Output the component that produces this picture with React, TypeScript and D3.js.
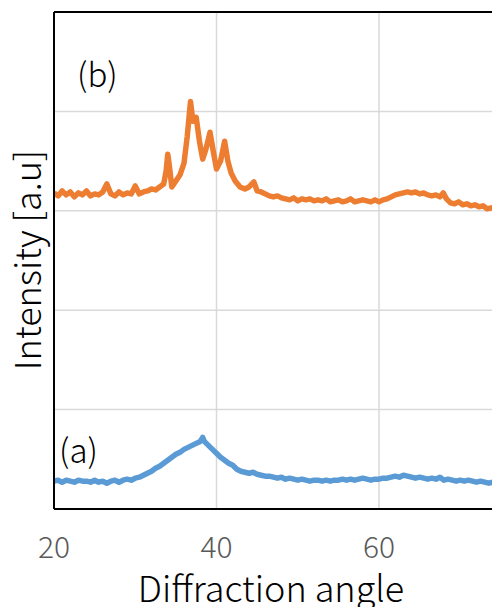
import * as d3 from 'd3';

// diffraction angle (deg) and intensity (a.u.) for each sample
const angleB = [
  20, 20.5, 21, 21.5, 22, 22.5, 23, 23.5, 24, 24.5, 25, 25.5, 26, 26.5, 27, 27.5, 28, 28.5, 29, 29.5,
  30, 30.5, 31, 31.5, 32, 32.5, 33, 33.5, 33.8, 34.0, 34.2, 34.5, 35, 35.5, 36, 36.4, 36.8, 37.1, 37.5,
  37.9, 38.3, 38.7, 39.2, 39.6, 40.0, 40.5, 41.0, 41.4, 41.8, 42.3, 42.9, 43.5, 44.0, 44.6, 45.0, 45.5,
  46, 46.5, 47, 47.5, 48, 48.5, 49, 49.5, 50, 50.5, 51, 51.5, 52, 52.5, 53, 53.5, 54, 54.5, 55, 55.5,
  56, 56.5, 57, 57.5, 58, 58.5, 59, 59.5, 60, 60.5, 61, 61.5, 62, 62.5, 63, 63.5, 64, 64.5, 65, 65.5,
  66, 66.5, 67, 67.5, 67.9, 68.3, 68.8, 69.3, 69.8, 70.3, 70.8, 71.3, 71.8, 72.3, 72.8, 73.3, 73.8, 74.2,
];
const intensityB = [
  3.18, 3.15, 3.2, 3.16, 3.19, 3.14, 3.18, 3.16, 3.2, 3.15, 3.17, 3.16, 3.19, 3.27, 3.17, 3.15, 3.19, 3.16, 3.18, 3.17,
  3.25, 3.17, 3.19, 3.2, 3.22, 3.21, 3.24, 3.27, 3.4, 3.57, 3.45, 3.24, 3.3, 3.36, 3.48, 3.75, 4.1, 3.9, 3.94,
  3.7, 3.52, 3.62, 3.79, 3.6, 3.42, 3.5, 3.7, 3.5, 3.38, 3.3, 3.24, 3.22, 3.24, 3.29, 3.2, 3.19,
  3.17, 3.15, 3.14, 3.15, 3.13, 3.12, 3.11, 3.13, 3.1, 3.12, 3.11, 3.12, 3.1, 3.11, 3.1, 3.12, 3.09, 3.1, 3.11, 3.09,
  3.1, 3.12, 3.09, 3.1, 3.11, 3.1, 3.09, 3.11, 3.09, 3.11, 3.12, 3.14, 3.16, 3.17, 3.18, 3.19, 3.18, 3.19, 3.17, 3.18,
  3.16, 3.15, 3.16, 3.14, 3.18, 3.12, 3.08, 3.07, 3.09, 3.06, 3.07, 3.05, 3.06, 3.04, 3.05, 3.02, 3.03, 3.02,
];

const angleA = [
  20, 20.5, 21, 21.5, 22, 22.5, 23, 23.5, 24, 24.5, 25, 25.5, 26, 26.5, 27, 27.5, 28, 28.5, 29, 29.5,
  30, 30.5, 31, 31.5, 32, 32.5, 33, 33.5, 34, 34.5, 35, 35.5, 36, 36.5, 37, 37.5, 38, 38.3, 38.5, 39,
  39.5, 40, 40.5, 41, 41.5, 42, 42.5, 43, 43.5, 44, 44.5, 45, 45.5, 46, 46.5, 47, 47.5, 48, 48.5, 49,
  49.5, 50, 50.5, 51, 51.5, 52, 52.5, 53, 53.5, 54, 54.5, 55, 55.5, 56, 56.5, 57, 57.5, 58, 58.5, 59,
  59.5, 60, 60.5, 61, 61.5, 62, 62.5, 63, 63.5, 64, 64.5, 65, 65.5, 66, 66.5, 67, 67.5, 68, 68.5, 69,
  69.5, 70, 70.5, 71, 71.5, 72, 72.5, 73, 73.5, 74,
];
const intensityA = [
  0.28, 0.29, 0.27, 0.29, 0.28, 0.27, 0.29, 0.28, 0.28, 0.27, 0.29, 0.27, 0.28, 0.26, 0.28, 0.29, 0.27, 0.29, 0.3, 0.29,
  0.31, 0.32, 0.34, 0.36, 0.38, 0.41, 0.43, 0.46, 0.49, 0.52, 0.55, 0.57, 0.6, 0.62, 0.64, 0.66, 0.68, 0.72, 0.68, 0.64,
  0.6, 0.56, 0.52, 0.49, 0.46, 0.44, 0.4, 0.38, 0.37, 0.36, 0.37, 0.35, 0.34, 0.33, 0.33, 0.32, 0.31, 0.32, 0.3, 0.31,
  0.3, 0.29, 0.3, 0.29, 0.28, 0.29, 0.29, 0.28, 0.29, 0.28, 0.29, 0.29, 0.3, 0.29, 0.3, 0.29, 0.3, 0.31, 0.3, 0.29,
  0.3, 0.3, 0.31, 0.31, 0.32, 0.33, 0.32, 0.34, 0.33, 0.32, 0.31, 0.32, 0.31, 0.3, 0.31, 0.3, 0.32, 0.29, 0.3, 0.29,
  0.28, 0.29, 0.28, 0.29, 0.28, 0.27, 0.28, 0.27, 0.26, 0.27,
];

const xTicks = [20, 40, 60, 80];
const yTicks = [0, 1, 2, 3, 4, 5];

const W = 492;
const H = 607;
const margin = { left: 54, top: 12, bottom: 98 };
const plotRight = 541.5;
const font = '"Noto Sans CJK JP", "Noto Sans", sans-serif';

export default function App() {
  const x = d3.scaleLinear().domain([20, 80]).range([margin.left, plotRight]);
  const y = d3.scaleLinear().domain([0, 5]).range([H - margin.bottom, margin.top]);

  const path = (ax: number[], iy: number[]) =>
    d3
      .line<number>()
      .x((d) => x(ax[d]))
      .y((d) => y(iy[d]))(d3.range(ax.length)) || '';

  return (
    <svg
      width={W}
      height={H}
      style={{ position: 'absolute', left: 0, top: 0, background: '#fff' }}
      fontFamily={font}
      fontWeight={300}
    >
      <defs>
        <clipPath id="plot">
          <rect x={margin.left} y={margin.top} width={plotRight - margin.left} height={y(0) - y(5)} />
        </clipPath>
      </defs>
      {yTicks.slice(1, -1).map((t) => (
        <line key={'gy' + t} x1={margin.left} x2={plotRight} y1={y(t)} y2={y(t)} stroke="#d9d9d9" strokeWidth={1.5} />
      ))}
      {xTicks.slice(1).map((t) => (
        <line key={'gx' + t} x1={x(t)} x2={x(t)} y1={y(5)} y2={y(0)} stroke="#d9d9d9" strokeWidth={1.5} />
      ))}
      <g clipPath="url(#plot)">
        <path d={path(angleA, intensityA)} fill="none" stroke="#5B9BD5" strokeWidth={5.5} strokeLinejoin="round" />
        <path d={path(angleB, intensityB)} fill="none" stroke="#ED7D31" strokeWidth={5.5} strokeLinejoin="round" />
      </g>
      <line x1={margin.left} x2={plotRight} y1={y(5)} y2={y(5)} stroke="#000" strokeWidth={2} />
      <line x1={margin.left} x2={plotRight} y1={y(0)} y2={y(0)} stroke="#000" strokeWidth={2} />
      <line x1={margin.left} x2={margin.left} y1={y(5)} y2={y(0)} stroke="#000" strokeWidth={2} />
      {xTicks.slice(0, -1).map((t) => (
        <text key={'tx' + t} x={x(t)} y={558} textAnchor="middle" fontSize={30} fill="#595959">
          {t}
        </text>
      ))}
      <text x={271} y={602} textAnchor="middle" fontSize={36} fill="#000">
        Diffraction angle
      </text>
      <text
        transform={`translate(41, 260) rotate(-90)`}
        textAnchor="middle"
        fontSize={36}
        fill="#000"
      >
        Intensity [a.u]
      </text>
      <text x={77} y={87} fontSize={33} fill="#000">
        (b)
      </text>
      <text x={59} y={463} fontSize={33} fill="#000">
        (a)
      </text>
    </svg>
  );
}
